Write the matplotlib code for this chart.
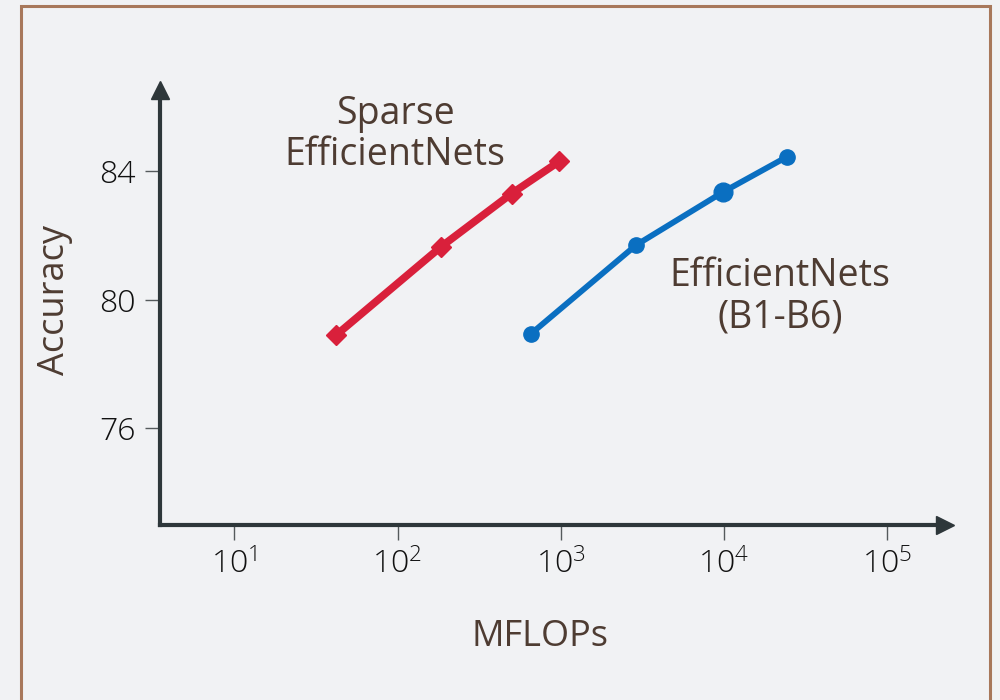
import matplotlib
matplotlib.use("Agg")
import matplotlib.pyplot as plt
from matplotlib.patches import Rectangle

# MFLOPs and top-1 accuracy of each model family
sparse_mflops = [42, 185, 500, 980]
sparse_acc = [78.9, 81.65, 83.3, 84.3]
effnet_mflops = [660, 2900, 9900, 24500]
effnet_acc = [78.95, 81.7, 83.35, 84.45]
effnet_marker_sizes = [11, 11, 13.5, 11]

y_ticks = [76, 80, 84]
x_ticks = [1e1, 1e2, 1e3, 1e4, 1e5]

BG = "#f1f2f4"
AXIS = "#2e373a"
BROWN = "#4e3c32"
RED = "#d9203b"
BLUE = "#0a6fc1"

plt.rcParams["font.family"] = ["Open Sans", "DejaVu Sans"]

fig = plt.figure(figsize=(10, 7), dpi=100, facecolor=BG)
ax = fig.add_axes([0.16, 0.25, 0.785, 0.6214])
ax.set_facecolor(BG)

ax.set_xscale("log")
ax.set_xlim(3.5, 2.27e5)
ax.set_ylim(73.0, 86.52)

ax.plot(sparse_mflops, sparse_acc, color=RED, lw=5.5, marker="D",
        markersize=10.5, solid_capstyle="butt", zorder=3)
ax.plot(effnet_mflops, effnet_acc, color=BLUE, lw=4.2, zorder=3)
for x, y, s in zip(effnet_mflops, effnet_acc, effnet_marker_sizes):
    ax.plot([x], [y], marker="o", markersize=s, color=BLUE, zorder=4)

# axes with arrow heads
for side in ("top", "right"):
    ax.spines[side].set_visible(False)
for side in ("left", "bottom"):
    ax.spines[side].set_color(AXIS)
    ax.spines[side].set_linewidth(3)
ax.plot([0], [1.0], marker="^", markersize=13, color=AXIS,
        transform=ax.transAxes, clip_on=False, zorder=5)
ax.plot([1.0], [0], marker=">", markersize=13, color=AXIS,
        transform=ax.transAxes, clip_on=False, zorder=5)

ax.set_yticks(y_ticks)
ax.set_xticks(x_ticks)
ax.minorticks_off()
ax.tick_params(axis="both", which="major", length=10.5, width=1,
               color="#555a5c", labelsize=23, labelcolor="#111111", pad=7)
for lbl in ax.get_xticklabels() + ax.get_yticklabels():
    lbl.set_fontweight("light")

ax.text(0.484, -0.257, "MFLOPs", transform=ax.transAxes, ha="center",
        va="center", fontsize=26, color=BROWN)
ax.text(-0.134, 0.517, "Accuracy", transform=ax.transAxes, ha="center",
        va="center", rotation=90, fontsize=26, color=BROWN)

fig.text(0.395, 0.808, "Sparse\nEfficientNets", ha="center", va="center",
         fontsize=27, color=BROWN, linespacing=1.1)
fig.text(0.780, 0.576, "EfficientNets\n(B1-B6)", ha="center", va="center",
         fontsize=27, color=BROWN, linespacing=1.1)

# outer frame
fig.patches.append(Rectangle((0.021, -0.05), 0.969, 1.041,
                             transform=fig.transFigure, fill=False,
                             edgecolor="#a8785b", linewidth=2.2))

fig.savefig("out.png", dpi=100, facecolor=BG)
